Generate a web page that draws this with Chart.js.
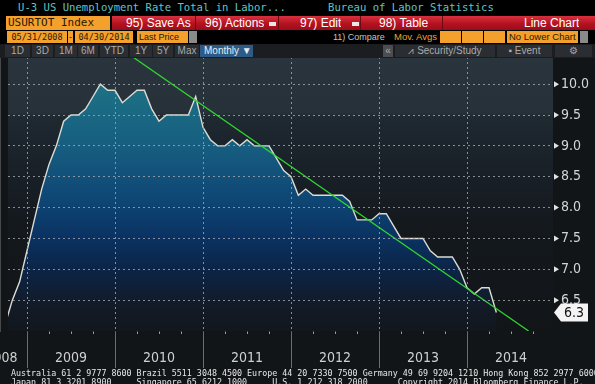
<!DOCTYPE html>
<html>
<head>
<meta charset="utf-8">
<script src="https://cdn.jsdelivr.net/npm/chart.js@4"></script>
<style>
  body { margin: 0; background: #000; }
  #wrap { position: relative; width: 595px; height: 384px; overflow: hidden; background: #121518; }
  #chartbox { position: absolute; left: 0; top: 0; width: 595px; height: 384px; }
  .abs { position: absolute; white-space: pre; overflow: hidden; }
  .mono { font-family: 'DejaVu Sans Mono', monospace; }
  .sans { font-family: 'Liberation Sans', Arial, sans-serif; }
  .org { background: #f4a02c; color: #2a1800; }
  .red { color: #fff; font-family: 'Liberation Sans', Arial, sans-serif; font-size: 12px; top: 16px; line-height: 14px; }
  .sep { background: #6a0a14; width: 1px; top: 16px; height: 14px; }
  .drop { background: #e8e8e8; width: 7px; height: 4px; top: 22px; }
  .btn { top: 45px; height: 12px; background: #2a2d31; color: #a9aaa9; font-family: 'Liberation Sans', Arial, sans-serif;
         font-size: 10px; line-height: 12px; text-align: center; }
</style>
</head>
<body>
<div id="wrap">
  <div id="chartbox"><canvas id="c"></canvas></div>

  <!-- title rows -->
  <div class="abs" style="left:0;top:0;width:595px;height:44px;background:#000"></div>
  <div class="abs mono" style="left:18px;top:0px;font-size:10.6px;line-height:14px;color:#5fc6c2">U-3 US Unemployment Rate Total in Labor...</div>
  <div class="abs mono" style="left:328px;top:0px;font-size:10.6px;line-height:14px;color:#5fc6c2">Bureau of Labor Statistics</div>

  <div class="abs org mono" style="left:6px;top:16px;width:104px;height:14px;font-size:11px;line-height:14px;padding-left:2px;box-sizing:border-box">USURTOT Index</div>
  <div class="abs" style="left:112px;top:16px;width:483px;height:14px;background:linear-gradient(#d8303e,#b4121f 55%,#9c0c19)"></div>
  <div class="abs red" style="left:126px">95) Save As</div>
  <div class="abs sep" style="left:195px"></div>
  <div class="abs red" style="left:205px">96) Actions</div>
  <div class="abs drop" style="left:269px"></div>
  <div class="abs sep" style="left:278px"></div>
  <div class="abs red" style="left:300px">97) Edit</div>
  <div class="abs drop" style="left:352px"></div>
  <div class="abs sep" style="left:360px"></div>
  <div class="abs red" style="left:379px">98) Table</div>
  <div class="abs sep" style="left:442px"></div>
  <div class="abs red" style="left:524px">Line Chart</div>

  <div class="abs org mono" style="left:7px;top:31px;width:60px;height:12px;font-size:8.5px;line-height:12px;text-align:center">05/31/2008</div>
  <div class="abs org mono" style="left:68px;top:31px;width:5px;height:12px;font-size:8.5px;line-height:12px;text-align:center">-</div>
  <div class="abs org mono" style="left:75px;top:31px;width:58px;height:12px;font-size:8.5px;line-height:12px;text-align:center">04/30/2014</div>
  <div class="abs org sans" style="left:137px;top:31px;width:51px;height:12px;font-size:9px;line-height:12px;padding-left:2px;box-sizing:border-box">Last Price</div>
  <div class="abs" style="left:189px;top:31px;width:8px;height:12px;background:#8a8a8a"></div>
  <div class="abs sans" style="left:333px;top:31px;font-size:9px;line-height:12px;color:#c4c4c4">11) Compare</div>
  <div class="abs sans" style="left:394px;top:31px;font-size:9.5px;line-height:12px;color:#f0a030">Mov. Avgs</div>
  <div class="abs org" style="left:440px;top:31px;width:21px;height:12px"></div>
  <div class="abs org" style="left:462px;top:31px;width:21px;height:12px"></div>
  <div class="abs org" style="left:484px;top:31px;width:21px;height:12px"></div>
  <div class="abs org sans" style="left:507px;top:31px;width:71px;height:12px;font-size:9.5px;line-height:12px;padding-left:2px;box-sizing:border-box">No Lower Chart</div>
  <div class="abs" style="left:580px;top:31px;width:8px;height:12px;background:#8a8a8a"></div>

  <!-- period buttons -->
  <div class="abs" style="left:0;top:44px;width:595px;height:14px;background:#1b1d20"></div>
  <div class="abs btn" style="left:5px;width:25px">1D</div>
  <div class="abs btn" style="left:32px;width:21px">3D</div>
  <div class="abs btn" style="left:55px;width:22px">1M</div>
  <div class="abs btn" style="left:78px;width:20px">6M</div>
  <div class="abs btn" style="left:100px;width:28px">YTD</div>
  <div class="abs btn" style="left:130px;width:22px">1Y</div>
  <div class="abs btn" style="left:153px;width:20px">5Y</div>
  <div class="abs btn" style="left:175px;width:24px">Max</div>
  <div class="abs btn" style="left:200px;width:53px;background:#2d5b85;color:#e4ecf4;text-align:left;padding-left:4px;box-sizing:border-box">Monthly ▼</div>
  <div class="abs btn" style="left:383px;width:10px;background:#4a4d52">«</div>
  <div class="abs btn" style="left:395px;width:100px">⩘ Security/Study</div>
  <div class="abs btn" style="left:497px;width:55px">▪ Event</div>
  <div class="abs btn" style="left:555px;width:37px">⚙</div>

  <!-- footer -->
  <div class="abs mono" style="left:11px;top:369px;font-size:8.35px;line-height:8.5px;color:#e6e6e6">Australia 61 2 9777 8600 Brazil 5511 3048 4500 Europe 44 20 7330 7500 Germany 49 69 9204 1210 Hong Kong 852 2977 6000
Japan 81 3 3201 8900     Singapore 65 6212 1000     U.S. 1 212 318 2000      Copyright 2014 Bloomberg Finance L.P.</div>
</div>

<script>
// Chart data
var firstYear = 2008, firstMonth = 9;   // first point: end of Sep 2008
var rate = [
    6.1, 6.5, 6.8, 7.3,                                             // 2008
    7.8, 8.3, 8.7, 9.0, 9.4, 9.5, 9.5, 9.6, 9.8, 10.0, 9.9, 9.9,    // 2009
    9.7, 9.8, 9.9, 9.9, 9.6, 9.4, 9.5, 9.5, 9.5, 9.5, 9.8, 9.3,     // 2010
    9.1, 9.0, 9.0, 9.1, 9.0, 9.1, 9.0, 9.0, 9.0, 8.8, 8.6, 8.5,     // 2011
    8.2, 8.3, 8.2, 8.2, 8.2, 8.2, 8.2, 8.1, 7.8, 7.8, 7.8, 7.9,     // 2012
    7.9, 7.7, 7.5, 7.5, 7.5, 7.5, 7.3, 7.2, 7.2, 7.2, 7.0, 6.7,     // 2013
    6.6, 6.7, 6.7, 6.3                                              // 2014
];

// trend line, as drawn on the screen
var trendX = [2010.0, 2014.70];
var trendY = [10.64, 6.0];

var yearLabels = ['2008', '2009', '2010', '2011', '2012', '2013', '2014'];
var yLabels = ['6.5', '7.0', '7.5', '8.0', '8.5', '9.0', '9.5', '10.0'];

var xMin = 2008.784, xMax = 2014.977;
var yMin = 6.0, yMax = 10.44;

var axisFont = "'Liberation Sans Narrow', 'DejaVu Sans Condensed', 'Arial Narrow', sans-serif";
var gridCol = 'rgba(165,168,175,0.8)';

var ratePts = rate.map(function (v, i) {
    var m = firstMonth + i;
    return { x: firstYear + m / 12, y: v };
});
var trendPts = trendX.map(function (x, i) { return { x: x, y: trendY[i] }; });

function isMajor(v) {
    return Math.abs(v * 2 - Math.round(v * 2)) < 1e-6;
}

function areaFill(context) {
    var ca = context.chart.chartArea;
    if (!ca) return null;
    var g = context.chart.ctx.createLinearGradient(0, ca.top, 0, ca.bottom);
    g.addColorStop(0.00, '#21798a');
    g.addColorStop(0.12, '#1d7085');
    g.addColorStop(0.34, '#165c7f');
    g.addColorStop(0.52, '#0e4674');
    g.addColorStop(0.66, '#0a3262');
    g.addColorStop(0.78, '#0c2445');
    g.addColorStop(0.90, '#121b29');
    g.addColorStop(1.00, '#13171d');
    return g;
}

var bgPlugin = {
    id: 'bg',
    beforeDraw: function (chart) {
        var ca = chart.chartArea, ctx = chart.ctx;
        var g = ctx.createLinearGradient(0, ca.top, 0, ca.bottom);
        g.addColorStop(0.0, '#29343c');
        g.addColorStop(0.2, '#26313a');
        g.addColorStop(0.22, '#1f2930');
        g.addColorStop(0.3, '#1c252d');
        g.addColorStop(0.45, '#181f26');
        g.addColorStop(0.6, '#14191e');
        g.addColorStop(1.0, '#121518');
        ctx.save();
        ctx.fillStyle = g;
        ctx.fillRect(ca.left, ca.top, ca.right - ca.left, ca.bottom - ca.top);
        ctx.restore();
    }
};

var decoPlugin = {
    id: 'deco',
    afterDraw: function (chart) {
        var ctx = chart.ctx, ca = chart.chartArea;
        var xs = chart.scales.x, ys = chart.scales.y;
        ctx.save();
        // year separators under the axis
        ctx.strokeStyle = '#6c6c6c';
        ctx.lineWidth = 1;
        for (var yr = 2009; yr <= 2014; yr++) {
            var px = Math.round(xs.getPixelForValue(yr)) + 0.5;
            ctx.beginPath();
            ctx.moveTo(px, ca.bottom + 1);
            ctx.lineTo(px, ca.bottom + 37);
            ctx.stroke();
        }
        // clipped first year label
        ctx.fillStyle = '#cfcfcf';
        ctx.font = '14px ' + axisFont;
        ctx.textAlign = 'right';
        ctx.textBaseline = 'middle';
        ctx.fillText(yearLabels[0], 17.5, ca.bottom + 27);
        // tick markers on the value axis
        ctx.fillStyle = '#e2e2e2';
        yLabels.forEach(function (l) {
            var py = ys.getPixelForValue(parseFloat(l));
            ctx.beginPath();
            ctx.moveTo(ca.right + 1, py - 3);
            ctx.lineTo(ca.right + 6, py);
            ctx.lineTo(ca.right + 1, py + 3);
            ctx.closePath();
            ctx.fill();
        });
        // last price box
        var last = rate[rate.length - 1];
        var ly = ys.getPixelForValue(last);
        ctx.fillStyle = '#f4f4f4';
        ctx.beginPath();
        ctx.moveTo(ca.right + 1, ly);
        ctx.lineTo(ca.right + 8, ly - 9);
        ctx.lineTo(ca.right + 35, ly - 9);
        ctx.lineTo(ca.right + 35, ly + 9);
        ctx.lineTo(ca.right + 8, ly + 9);
        ctx.closePath();
        ctx.fill();
        ctx.fillStyle = '#111';
        ctx.textAlign = 'center';
        ctx.fillText(last.toFixed(1), ca.right + 21, ly + 1);
        ctx.restore();
    }
};

var chart = new Chart(document.getElementById('c'), {
    type: 'line',
    data: {
        datasets: [{
            data: trendPts,
            borderColor: '#2fd42f',
            borderWidth: 1.3,
            pointRadius: 0,
            fill: false,
            order: 0
        }, {
            data: ratePts,
            borderColor: '#dcdcd4',
            borderWidth: 1.4,
            pointRadius: 0,
            tension: 0,
            fill: 'start',
            backgroundColor: areaFill,
            order: 1
        }]
    },
    options: {
        responsive: true,
        maintainAspectRatio: false,
        animation: false,
        layout: { padding: { top: 57, left: 8, right: 0, bottom: 16 } },
        plugins: { legend: { display: false }, tooltip: { enabled: false } },
        scales: {
            x: {
                type: 'linear',
                min: xMin,
                max: xMax,
                afterBuildTicks: function (s) {
                    var t = [];
                    for (var v = 2009; v <= 2014.75; v += 0.25) t.push({ value: v });
                    s.ticks = t;
                },
                afterFit: function (s) { s.height = 37; },
                grid: {
                    z: 1,
                    color: function (c) {
                        return c.tick && c.tick.value % 1 === 0 ? gridCol : 'rgba(0,0,0,0)';
                    },
                    borderDash: [2, 3],
                    tickColor: '#9a9a9a',
                    tickLength: 3
                },
                border: { color: '#5d6577', width: 1.5, dash: [2, 3] },
                ticks: {
                    autoSkip: false,
                    maxRotation: 0,
                    padding: 16,
                    color: '#cfcfcf',
                    font: { family: axisFont, size: 14 },
                    callback: function (v) {
                        return v % 1 === 0.5 ? yearLabels[Math.floor(v) - 2008] : '';
                    }
                }
            },
            y: {
                position: 'right',
                min: yMin,
                max: yMax,
                afterBuildTicks: function (s) {
                    var t = [];
                    for (var v = 6; v <= 10.3; v += 0.25) t.push({ value: v });
                    s.ticks = t;
                },
                afterFit: function (s) { s.width = 42; },
                grid: {
                    z: 1,
                    color: function (c) {
                        var v = c.tick ? c.tick.value : 0;
                        return isMajor(v) && v > 6.1 ? gridCol : 'rgba(0,0,0,0)';
                    },
                    borderDash: [2, 3],
                    tickColor: function (c) {
                        var v = c.tick ? c.tick.value : 0;
                        return isMajor(v) ? 'rgba(0,0,0,0)' : '#9a9a9a';
                    },
                    tickLength: 4
                },
                border: { color: '#7c7c7c', width: 1, dash: [2, 3] },
                ticks: {
                    padding: 4,
                    color: '#d4d4d4',
                    font: { family: axisFont, size: 14 },
                    callback: function (v) {
                        var i = yLabels.indexOf(v.toFixed(1));
                        return i >= 0 ? yLabels[i] : '';
                    }
                }
            }
        }
    },
    plugins: [bgPlugin, decoPlugin]
});
</script>
</body>
</html>
